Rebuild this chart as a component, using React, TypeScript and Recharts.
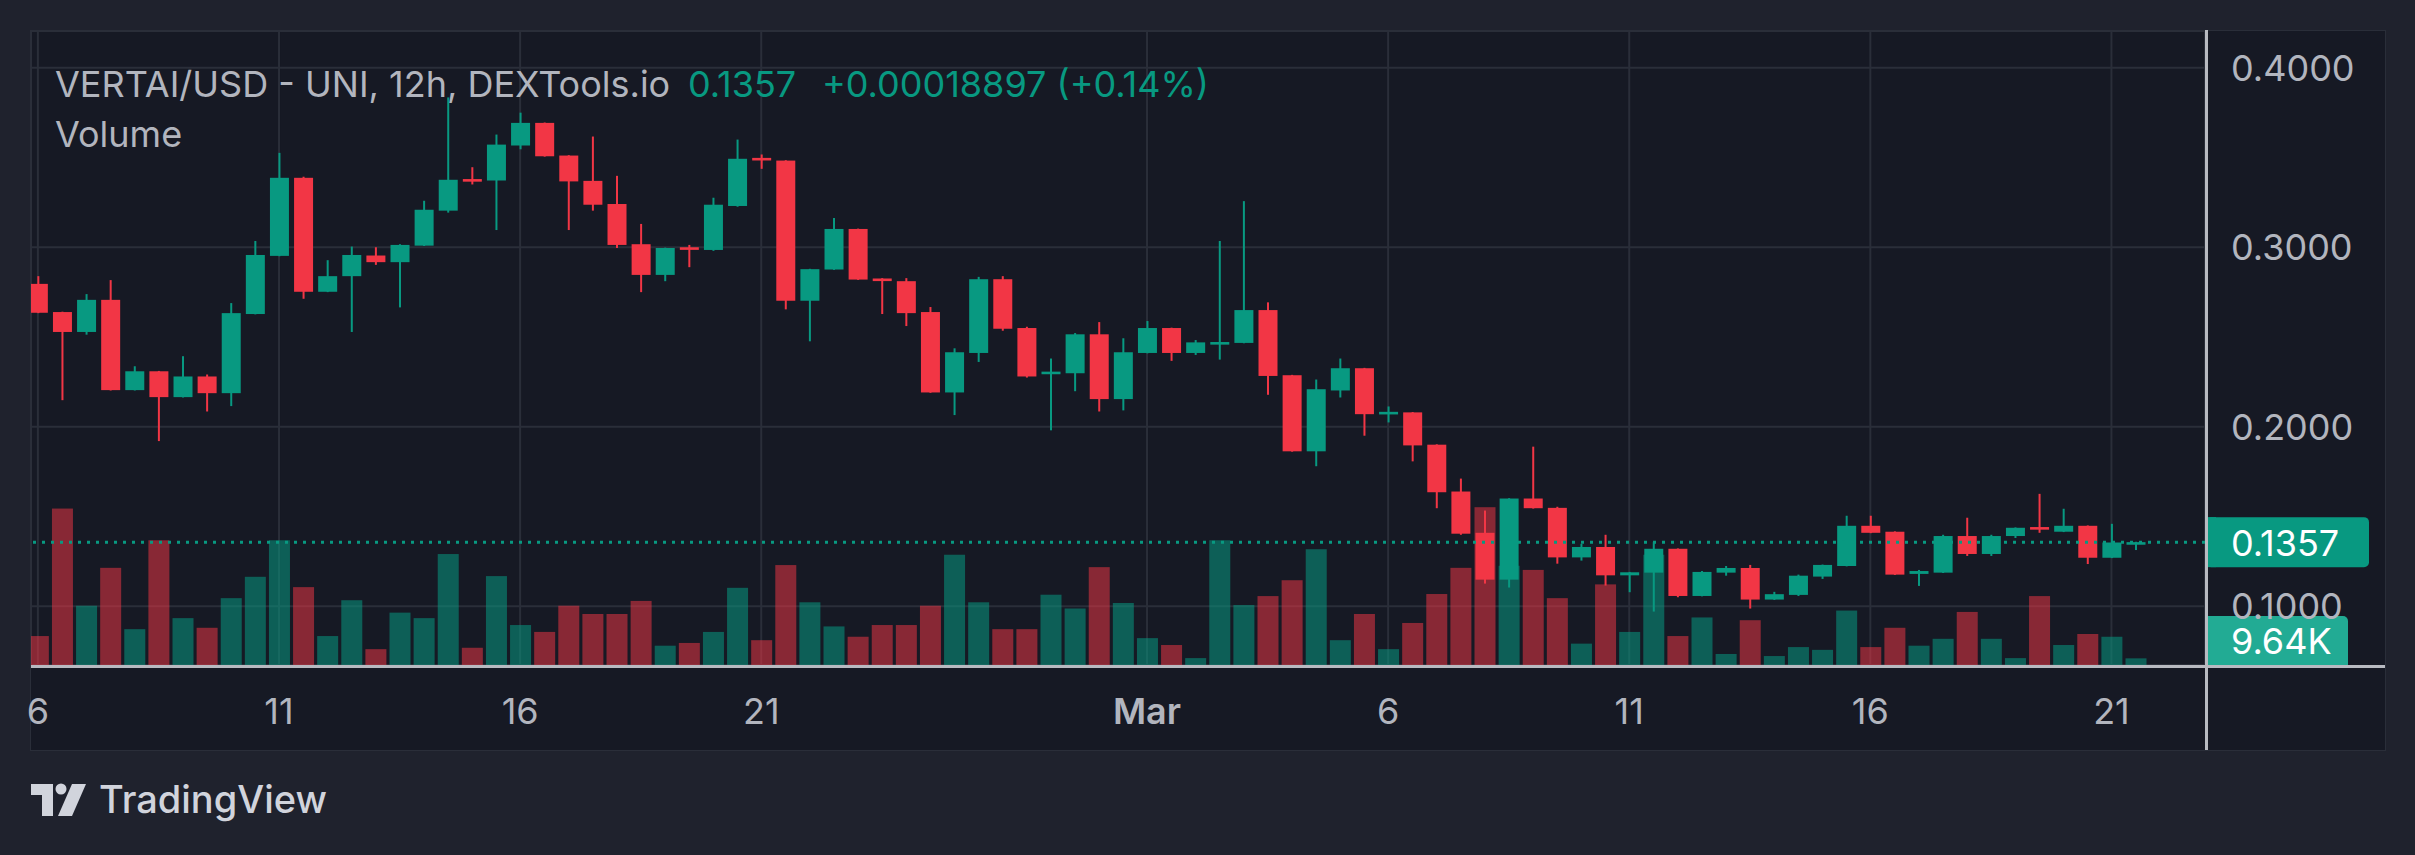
import React from 'react'
import { ComposedChart, Bar, XAxis, YAxis, CartesianGrid, ReferenceLine } from 'recharts'

// 12h candles, Feb 6 00:00 -> Mar 21 12:00 (index = half-days since Feb 6)
const opens = [
  0.2796, 0.2639, 0.2528, 0.2707, 0.2204, 0.2309, 0.2165, 0.2280, 0.2187, 0.2628,
  0.2952, 0.3387, 0.2752, 0.2839, 0.2954, 0.2917, 0.3009, 0.3204, 0.3380, 0.3372,
  0.3567, 0.3693, 0.3511, 0.3370, 0.3241, 0.3017, 0.2846, 0.3000, 0.2985, 0.3230,
  0.3498, 0.3483, 0.2702, 0.2876, 0.3102, 0.2826, 0.2811, 0.2639, 0.2191, 0.2411,
  0.2822, 0.2550, 0.2298, 0.2298, 0.2515, 0.2154, 0.2411, 0.2550, 0.2411, 0.2463,
  0.2467, 0.2650, 0.2287, 0.1863, 0.2202, 0.2326, 0.2072, 0.2080, 0.1900, 0.1639,
  0.1409, 0.1148, 0.1600, 0.1548, 0.1272, 0.1330, 0.1172, 0.1187, 0.1320, 0.1057,
  0.1187, 0.1213, 0.1037, 0.1063, 0.1165, 0.1224, 0.1448, 0.1415, 0.1180, 0.1187,
  0.1391, 0.1291, 0.1391, 0.1441, 0.1415, 0.1448, 0.1270, 0.1355,
]
const highs = [
  0.2839, 0.2641, 0.2739, 0.2817, 0.2337, 0.2311, 0.2393, 0.2291, 0.2689, 0.3035,
  0.3526, 0.3393, 0.2928, 0.3004, 0.3000, 0.3017, 0.3259, 0.3835, 0.3446, 0.3628,
  0.3750, 0.3695, 0.3513, 0.3617, 0.3398, 0.3130, 0.2998, 0.3013, 0.3276, 0.3600,
  0.3517, 0.3485, 0.2880, 0.3163, 0.3104, 0.2828, 0.2828, 0.2667, 0.2437, 0.2835,
  0.2839, 0.2557, 0.2380, 0.2522, 0.2583, 0.2493, 0.2589, 0.2552, 0.2483, 0.3035,
  0.3257, 0.2693, 0.2289, 0.2263, 0.2380, 0.2328, 0.2113, 0.2082, 0.1902, 0.1711,
  0.1533, 0.1602, 0.1889, 0.1554, 0.1348, 0.1398, 0.1191, 0.1357, 0.1322, 0.1196,
  0.1224, 0.1230, 0.1080, 0.1176, 0.1232, 0.1504, 0.1504, 0.1417, 0.1202, 0.1398,
  0.1493, 0.1398, 0.1439, 0.1626, 0.1543, 0.1450, 0.1459, 0.1359,
]
const lows = [
  0.2633, 0.2148, 0.2513, 0.2202, 0.2202, 0.1920, 0.2163, 0.2085, 0.2115, 0.2626,
  0.2950, 0.2713, 0.2750, 0.2528, 0.2902, 0.2665, 0.3007, 0.3193, 0.3350, 0.3096,
  0.3546, 0.3505, 0.3096, 0.3204, 0.2996, 0.2750, 0.2811, 0.2889, 0.2980, 0.3226,
  0.3437, 0.2654, 0.2476, 0.2874, 0.2818, 0.2628, 0.2561, 0.2189, 0.2065, 0.2361,
  0.2535, 0.2274, 0.1980, 0.2198, 0.2085, 0.2091, 0.2409, 0.2367, 0.2400, 0.2374,
  0.2465, 0.2178, 0.1861, 0.1780, 0.2163, 0.1950, 0.2024, 0.1807, 0.1546, 0.1398,
  0.1126, 0.1104, 0.1544, 0.1237, 0.1254, 0.1115, 0.1078, 0.0970, 0.1050, 0.1055,
  0.1170, 0.0987, 0.1035, 0.1057, 0.1152, 0.1222, 0.1407, 0.1174, 0.1113, 0.1185,
  0.1280, 0.1280, 0.1380, 0.1409, 0.1413, 0.1235, 0.1268, 0.1313,
]
const closes = [
  0.2635, 0.2528, 0.2707, 0.2204, 0.2309, 0.2165, 0.2280, 0.2187, 0.2633, 0.2957,
  0.3387, 0.2752, 0.2839, 0.2957, 0.2917, 0.3013, 0.3209, 0.3376, 0.3367, 0.3572,
  0.3693, 0.3507, 0.3367, 0.3237, 0.3013, 0.2846, 0.2996, 0.2987, 0.3237, 0.3493,
  0.3487, 0.2702, 0.2878, 0.3102, 0.2820, 0.2815, 0.2633, 0.2191, 0.2415, 0.2822,
  0.2546, 0.2280, 0.2307, 0.2515, 0.2154, 0.2415, 0.2550, 0.2411, 0.2470, 0.2472,
  0.2650, 0.2283, 0.1863, 0.2209, 0.2326, 0.2070, 0.2083, 0.1896, 0.1635, 0.1404,
  0.1148, 0.1600, 0.1546, 0.1272, 0.1330, 0.1172, 0.1189, 0.1320, 0.1057, 0.1191,
  0.1213, 0.1037, 0.1067, 0.1170, 0.1230, 0.1448, 0.1409, 0.1176, 0.1196, 0.1391,
  0.1291, 0.1391, 0.1437, 0.1430, 0.1448, 0.1270, 0.1355, 0.1357,
]
// volume in thousands
const volumes = [
  42, 227, 86, 141, 52, 181, 68, 54, 97, 128,
  181, 113, 42, 94, 23, 76, 68, 161, 25, 129,
  58, 48, 86, 74, 74, 93, 28, 32, 48, 112,
  36, 145, 91, 56, 41, 58, 58, 86, 160, 91,
  52, 52, 102, 82, 142, 90, 39, 29, 10, 181,
  87, 100, 123, 168, 36, 74, 23, 61, 103, 141,
  229, 144, 138, 97, 31, 117, 48, 160, 42, 69,
  16, 65, 13, 26, 22, 79, 26, 54, 28, 38,
  77, 38, 10, 100, 29, 45, 41, 9.64,
]

const dayTicks = [0, 10, 20, 30, 46, 56, 66, 76, 86]
const dayLabels = ['6', '11', '16', '21', 'Mar', '6', '11', '16', '21']
const priceTicks = [0.1, 0.2, 0.3, 0.4]

const GREEN = '#089981'
const RED = '#f23645'
const TEXT = '#b2b5be'
const FONT = 'Inter, Roboto, sans-serif'
const PLOT_BOTTOM = 665

const data = opens.map((o, i) => ({ i, o, h: highs[i], l: lows[i], c: closes[i], v: volumes[i] }))
const lastClose = closes[closes.length - 1]
const lastVol = volumes[volumes.length - 1]

function CandleShape(props: any) {
  const { x, y, width, height, payload } = props
  if (x == null || !payload) return null
  const top = Math.min(y, y + height)
  const bot = Math.max(y, y + height)
  const k = (bot - top) / (payload.h - payload.l)
  const py = (v: number) => top + (payload.h - v) * k
  const color = payload.c >= payload.o ? GREEN : RED
  const cx = x + width / 2
  const bTop = py(Math.max(payload.o, payload.c))
  const bH = Math.max(py(Math.min(payload.o, payload.c)) - bTop, 2.6)
  return (
    <g>
      <rect x={cx - 1} y={top} width={2} height={bot - top} fill={color} />
      <rect x={x} y={bTop} width={width} height={bH} fill={color} />
    </g>
  )
}

function VolShape(props: any) {
  const { x, y, width, height, payload } = props
  if (x == null || !payload) return null
  const up = payload.c >= payload.o
  return <rect x={x} y={y} width={width} height={height} fill={up ? GREEN : RED} fillOpacity={up ? 0.55 : 0.52} />
}

function DayTick(props: any) {
  const { x, payload } = props
  const label = dayLabels[dayTicks.indexOf(payload.value)]
  return (
    <text x={x} y={711} textAnchor="middle" dominantBaseline="central" fill={TEXT}
      fontFamily={FONT} fontSize={36} fontWeight={label === 'Mar' ? 600 : 400}>
      {label}
    </text>
  )
}

function PriceTick(props: any) {
  const { y, payload } = props
  return (
    <text x={2231} y={y} dominantBaseline="central" fill={TEXT} fontFamily={FONT} fontSize={36}>
      {Number(payload.value).toFixed(4)}
    </text>
  )
}

function PriceBadge(props: any) {
  const vb = props.viewBox
  if (!vb) return null
  const left = vb.x + vb.width + 1
  const cy = vb.y
  return (
    <g>
      <rect x={left} y={cy - 25} width={163} height={50} rx={5} fill={GREEN} />
      <rect x={left} y={cy - 25} width={10} height={50} fill={GREEN} />
      <text x={left + 25} y={cy + 1} dominantBaseline="central" fill="#ffffff" fontFamily={FONT} fontSize={36}>
        {lastClose.toFixed(4)}
      </text>
    </g>
  )
}

function VolBadge(props: any) {
  const vb = props.viewBox
  if (!vb) return null
  const left = vb.x + vb.width + 1
  const bottom = Math.min(vb.y + 25, PLOT_BOTTOM)
  return (
    <g>
      <rect x={left} y={bottom - 49} width={142} height={49} rx={5} fill="#22ab94" />
      <rect x={left} y={bottom - 49} width={10} height={49} fill="#22ab94" />
      <rect x={left} y={bottom - 10} width={142} height={10} fill="#22ab94" />
      <text x={left + 25} y={bottom - 24} dominantBaseline="central" fill="#ffffff" fontFamily={FONT} fontSize={36}>
        {lastVol.toFixed(2)}K
      </text>
    </g>
  )
}

export default function App() {
  return (
    <div style={{ position: 'absolute', left: 0, top: 0, width: 2415, height: 855, background: '#1f222d', overflow: 'hidden' }}>
      <div style={{ position: 'absolute', left: 30, top: 30, width: 2356, height: 721, background: '#161924', border: '1px solid #2a2e39', boxSizing: 'border-box' }} />
      <div style={{ position: 'absolute', left: 0, top: 0 }}>
        <ComposedChart width={2415} height={855} data={data} margin={{ top: 31, right: 30, bottom: 105, left: 31 }}>
          <CartesianGrid xAxisId="p" yAxisId="p" stroke="#2a2e39" strokeWidth={2} />
          <XAxis xAxisId="p" dataKey="i" type="number" domain={[-0.286, 89.88]} ticks={dayTicks} interval={0}
            allowDataOverflow height={85} tickLine={false} axisLine={false} tick={<DayTick />} />
          <XAxis xAxisId="v" dataKey="i" type="number" domain={[-0.286, 89.88]} allowDataOverflow hide />
          <YAxis yAxisId="p" orientation="right" domain={[0.06724, 0.4205]} ticks={priceTicks} interval={0}
            allowDataOverflow width={180} tickLine={false} axisLine={false} tick={<PriceTick />} />
          <YAxis yAxisId="v" domain={[0, 920]} allowDataOverflow hide />
          <Bar xAxisId="v" yAxisId="v" dataKey="v" barSize={21} shape={VolShape} isAnimationActive={false} />
          <Bar xAxisId="p" yAxisId="p" dataKey={(d: any) => [d.l, d.h]} barSize={19} shape={CandleShape} isAnimationActive={false} />
          <ReferenceLine xAxisId="p" yAxisId="p" y={lastClose} stroke={GREEN} strokeWidth={3} strokeDasharray="3 6"
            label={<PriceBadge />} />
          <ReferenceLine xAxisId="v" yAxisId="v" y={lastVol} stroke="none" label={<VolBadge />} />
        </ComposedChart>
      </div>
      <svg width={2415} height={855} style={{ position: 'absolute', left: 0, top: 0, pointerEvents: 'none' }}>
        <rect x={31} y={665} width={2354} height={3} fill="#b8bac1" />
        <rect x={2205} y={30} width={3} height={720} fill="#b8bac1" />
        <text x={55} y={97} fill={TEXT} fontFamily={FONT} fontSize={36}>VERTAI/USD - UNI, 12h, DEXTools.io</text>
        <text x={688} y={97} fill={GREEN} fontFamily={FONT} fontSize={36}>{lastClose.toFixed(4)}</text>
        <text x={822} y={97} fill={GREEN} fontFamily={FONT} fontSize={36}>+0.00018897 (+0.14%)</text>
        <text x={55} y={147} fill={TEXT} fontFamily={FONT} fontSize={36}>Volume</text>
        <g fill="#d1d4dc">
          <path d="M31 784 H53 V816 H42 V795 H31 Z" />
          <circle cx={61} cy={789} r={5.5} />
          <path d="M72 784 H86 L72 816 H58 Z" />
        </g>
        <text x={99} y={813} fill="#d1d4dc" fontFamily={FONT} fontSize={38} fontWeight={500}>TradingView</text>
      </svg>
    </div>
  )
}
